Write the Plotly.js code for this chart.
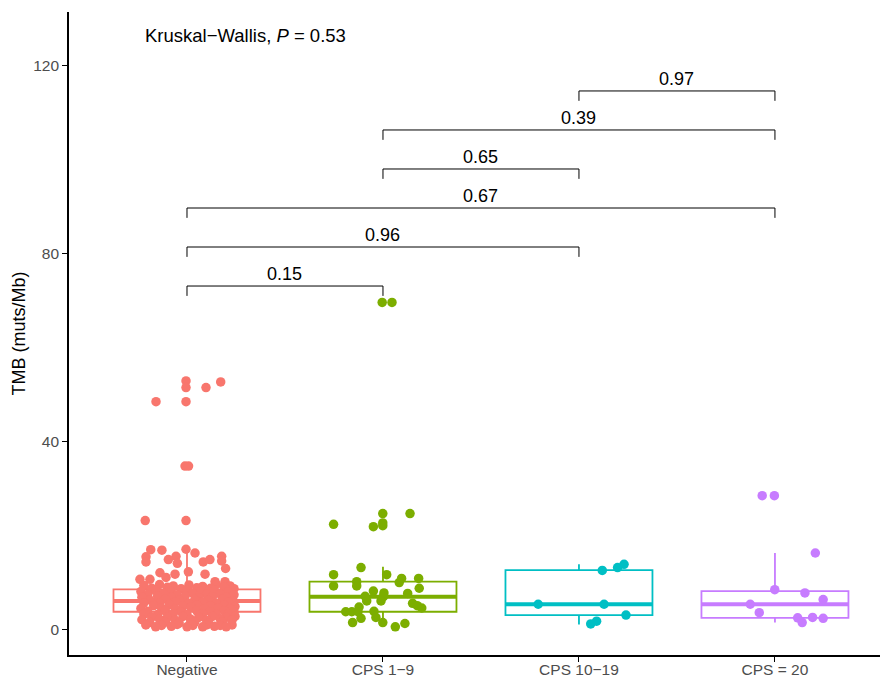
<!DOCTYPE html>
<html>
<head>
<meta charset="utf-8">
<script src="https://cdn.plot.ly/plotly-3.0.1.min.js"></script>
<style>html,body{margin:0;padding:0;background:#fff;}</style>
</head>
<body>
<div id="chart" style="width:880px;height:679px;"></div>
<script>
// ---- Data ----
var categories = ["Negative", "CPS 1\u22129", "CPS 10\u221219", "CPS = 20"];
var colors = ["#F8766D", "#7CAE00", "#00BFC4", "#C77CFF"];

// box statistics
var boxQ1     = [3.7, 3.7, 3.0, 2.4];
var boxMedian = [6.0, 6.9, 5.3, 5.3];
var boxQ3     = [8.45, 10.1, 12.55, 8.1];
var boxLower  = [0.5, 0.5, 1.0, 1.4];
var boxUpper  = [16.9, 13.3, 13.8, 16.2];

// individual points: values and horizontal jitter offsets (category units)
var negY = [52.8,51.4,51.4,52.6,48.4,48.4,34.7,34.7,23.1,23.1,
  16.9,16.8,17.0,16.2,15.5,14.8,15.4,14.3,14.0,14.3,14.8,15.5,14.5,12.9,12.2,12.0,11.7,11.7,10.6,10.6,11.0,10.1,10.1,9.7,
  9.3,9.5,9.2,9.4,9.1,9.5,9.2,
  8.7,8.9,8.6,8.8,8.7,8.9,8.6,
  8.0,8.2,8.0,8.3,8.0,8.2,7.9,
  7.4,7.6,7.3,7.6,7.4,7.5,7.3,
  6.8,7.0,6.8,7.0,6.7,6.9,6.8,
  6.2,6.4,6.1,6.3,6.1,6.3,6.0,
  5.6,5.5,5.8,5.5,5.7,5.5,5.7,
  5.0,5.2,4.9,5.1,4.9,5.1,4.8,
  4.4,4.5,4.3,4.6,4.3,4.5,4.3,
  3.8,3.9,3.7,3.9,3.7,3.9,3.6,
  3.2,3.1,3.3,3.1,3.3,3.1,3.2,
  2.6,2.5,2.7,2.5,2.7,2.5,2.7,
  2.0,2.1,1.9,2.1,1.9,2.1,1.9,
  1.4,1.5,1.3,1.5,1.3,1.5,
  0.9,0.8,1.0,0.8,0.9,0.8,0.9,
  0.5,0.6,0.5,0.5,0.6,0.5];
var negDx = [-0.005,-0.005,0.097,0.172,-0.158,-0.005,-0.01,0.008,-0.213,-0.005,
  -0.185,-0.128,-0.005,0.041,-0.056,-0.095,-0.209,-0.209,-0.049,0.083,0.117,0.177,0.177,0.197,0.007,-0.138,-0.061,0.092,-0.24,-0.189,-0.107,0.143,0.194,0.194,
  -0.22,-0.14,-0.07,0.01,0.08,0.15,0.22,
  -0.18,-0.10,-0.03,0.05,0.12,0.19,0.24,
  -0.235,-0.16,-0.08,0.0,0.07,0.14,0.21,
  -0.20,-0.12,-0.05,0.03,0.10,0.17,0.24,
  -0.23,-0.15,-0.08,-0.01,0.06,0.13,0.20,
  -0.19,-0.11,-0.04,0.04,0.11,0.18,0.235,
  -0.22,-0.14,-0.06,0.01,0.08,0.15,0.21,
  -0.17,-0.09,-0.02,0.05,0.12,0.19,0.245,
  -0.235,-0.13,-0.06,0.02,0.09,0.16,0.22,
  -0.20,-0.11,-0.03,0.05,0.12,0.19,0.24,
  -0.22,-0.15,-0.07,0.0,0.08,0.15,0.21,
  -0.18,-0.10,-0.02,0.06,0.13,0.20,0.245,
  -0.23,-0.14,-0.06,0.02,0.10,0.17,0.23,
  -0.19,-0.11,-0.04,0.04,0.11,0.18,
  -0.21,-0.13,-0.05,0.03,0.10,0.17,0.23,
  -0.16,-0.08,0.0,0.08,0.14,0.20];

var cps19Y = [69.5,69.5,22.3,24.6,24.6,21.8,22.0,22.6,13.1,11.6,11.6,10.8,10.8,10.1,9.2,9.2,9.9,8.7,8.1,7.7,7.6,7.0,6.9,6.0,6.0,5.5,5.0,4.5,4.7,3.7,3.7,3.7,3.8,2.5,2.3,1.4,1.4,0.5,1.2];
var cps19Dx = [-0.004,0.046,-0.252,-0.001,0.138,-0.049,-0.001,-0.001,-0.112,-0.252,0.019,0.095,0.182,-0.134,-0.252,-0.134,0.083,0.185,-0.049,0.005,0.126,-0.091,0.002,-0.083,-0.010,0.151,0.175,0.198,-0.122,-0.190,-0.159,-0.128,-0.046,-0.036,-0.112,-0.155,-0.001,0.063,0.112];

var cps1019Y = [12.5,13.1,13.8,5.3,5.3,3.0,1.1,1.7];
var cps1019Dx = [0.119,0.197,0.230,-0.208,0.128,0.240,0.060,0.090];

var cps20Y = [28.4,28.4,16.2,8.4,7.7,6.3,5.3,3.5,2.4,2.5,2.3,1.4];
var cps20Dx = [-0.065,-0.003,0.206,-0.001,0.153,0.246,-0.126,-0.080,0.116,0.192,0.246,0.139];

// pairwise comparisons
var cmpFrom   = [0, 0, 0, 1, 1, 2];
var cmpTo     = [1, 2, 3, 2, 3, 3];
var cmpLevel  = [73.0, 81.3, 89.6, 97.9, 106.2, 114.5];
var cmpLabels = ["0.15", "0.96", "0.67", "0.65", "0.39", "0.97"];
var kwLabel = "Kruskal\u2212Wallis, <i>P</i> = 0.53";

// ---- Build ----
var FONT = "Liberation Sans, Arial, sans-serif";
var boxWidth = 0.75;
var tip = 2.1;
var traces = [];
for (var i = 0; i < categories.length; i++) {
  traces.push({
    type: "box", x: [i], q1: [boxQ1[i]], median: [boxMedian[i]], q3: [boxQ3[i]],
    lowerfence: [boxLower[i]], upperfence: [boxUpper[i]],
    width: boxWidth, whiskerwidth: 0, boxpoints: false,
    line: {color: colors[i], width: 1.8}, fillcolor: "rgba(255,255,255,0)",
    hoverinfo: "skip", showlegend: false
  });
  traces.push({
    type: "scatter", mode: "lines",
    x: [i - boxWidth / 2, i + boxWidth / 2], y: [boxMedian[i], boxMedian[i]],
    line: {color: colors[i], width: 4}, hoverinfo: "skip", showlegend: false
  });
}
var ptsY = [negY, cps19Y, cps1019Y, cps20Y];
var ptsDx = [negDx, cps19Dx, cps1019Dx, cps20Dx];
for (var g = 0; g < 4; g++) {
  traces.push({
    type: "scatter", mode: "markers",
    x: ptsDx[g].map(function (d) { return g + d; }),
    y: ptsY[g],
    marker: {color: colors[g], size: 9.5, line: {width: 0}},
    hoverinfo: "skip", showlegend: false
  });
}
var annotations = [];
for (var k = 0; k < cmpFrom.length; k++) {
  var a = cmpFrom[k], b = cmpTo[k], lv = cmpLevel[k];
  traces.push({
    type: "scatter", mode: "lines",
    x: [a, a, b, b], y: [lv - tip, lv, lv, lv - tip],
    line: {color: "#000", width: 1}, hoverinfo: "skip", showlegend: false
  });
  annotations.push({
    x: (a + b) / 2, y: lv, yshift: 12, xref: "x", yref: "y",
    text: cmpLabels[k], showarrow: false, xanchor: "center", yanchor: "middle",
    font: {family: FONT, size: 18, color: "#000"}
  });
}
annotations.push({
  x: -0.222, y: 126.2, xref: "x", yref: "y", text: kwLabel, showarrow: false,
  xanchor: "left", yanchor: "middle", font: {family: FONT, size: 18.5, color: "#000"}
});

var layout = {
  width: 880, height: 679,
  margin: {l: 69, r: 0, t: 12, b: 24, pad: 0},
  paper_bgcolor: "#fff", plot_bgcolor: "#fff",
  showlegend: false, boxmode: "overlay",
  font: {family: FONT},
  xaxis: {
    range: [-0.602, 3.536], tickvals: [0, 1, 2, 3], ticktext: categories,
    showline: true, linecolor: "#000", linewidth: 1.8, ticks: "outside", ticklen: 5,
    tickcolor: "#000", tickwidth: 1, showgrid: false, zeroline: false,
    ticklabelstandoff: -5,
    tickfont: {family: FONT, size: 15.5, color: "#4D4D4D"}
  },
  yaxis: {
    range: [-5.5, 131.3], tickvals: [0, 40, 80, 120],
    showline: true, linecolor: "#000", linewidth: 1.8, ticks: "outside", ticklen: 5,
    tickcolor: "#000", tickwidth: 1, showgrid: false, zeroline: false,
    tickfont: {family: FONT, size: 15.5, color: "#4D4D4D"},
    title: {text: "TMB (muts/Mb)", font: {family: FONT, size: 18, color: "#000"}, standoff: 3}
  },
  annotations: annotations
};
Plotly.newPlot("chart", traces, layout, {staticPlot: true, displayModeBar: false});
</script>
</body>
</html>
